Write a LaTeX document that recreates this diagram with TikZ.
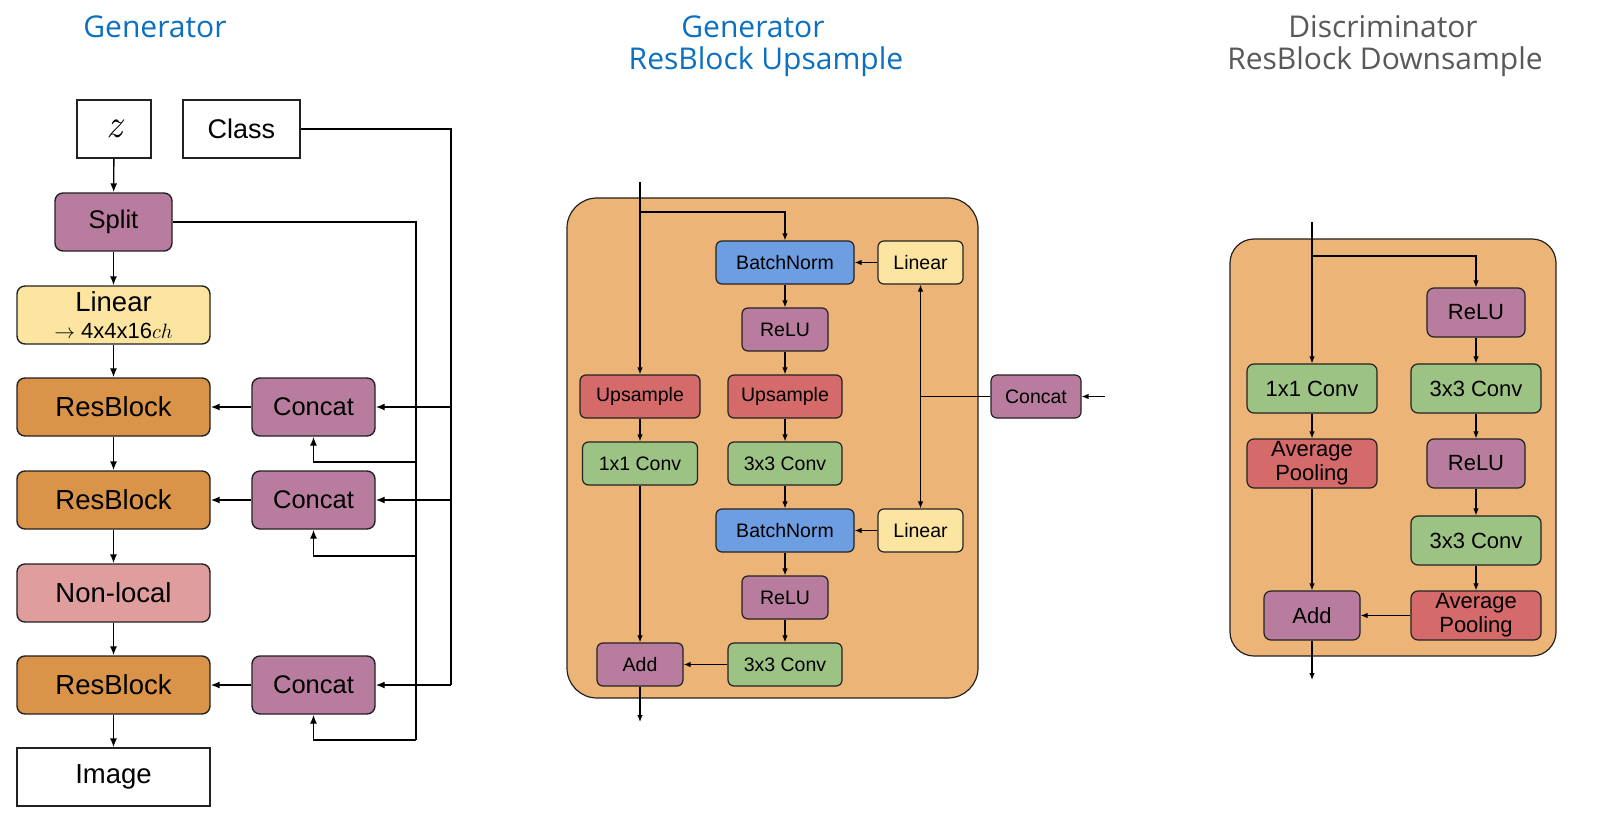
\documentclass[tikz,border=0pt]{standalone}
\usepackage{fontspec}
\setmainfont{Liberation Sans}
\newfontfamily\titlefont{Open Sans}
\newfontfamily\lmr{Latin Modern Roman}
\usetikzlibrary{arrows.meta}
\definecolor{purp}{RGB}{184,125,158}
\definecolor{yel}{RGB}{252,229,161}
\definecolor{orng}{RGB}{217,148,74}
\definecolor{pinkb}{RGB}{224,157,157}
\definecolor{bgor}{RGB}{236,180,118}
\definecolor{blueb}{RGB}{110,158,226}
\definecolor{redb}{RGB}{212,106,106}
\definecolor{grn}{RGB}{157,195,132}
\definecolor{tblue}{RGB}{11,112,192}
\definecolor{tgray}{RGB}{89,89,89}
\definecolor{edge}{RGB}{34,34,34}
\tikzset{
  blkA/.style={draw=edge, line width=1.4pt, rounded corners=8pt, inner sep=0pt, align=center,
    minimum height=58pt, font=\fontsize{27.5}{30}\selectfont},
  smA/.style={font=\fontsize{25.5}{30}\selectfont},
  sqA/.style={blkA, rounded corners=0pt, fill=white},
  blkB/.style={draw=edge, line width=1.2pt, rounded corners=6pt, inner sep=0pt, align=center,
    minimum height=43pt, font=\fontsize{19.5}{22}\selectfont},
  blkC/.style={draw=edge, line width=1.2pt, rounded corners=7pt, inner sep=0pt, align=center,
    minimum height=49pt, font=\fontsize{22}{24}\selectfont},
  lnA/.style={draw=black, line width=1.4pt},
  arA/.style={lnA, -{Latex[length=9pt,width=7pt]}},
  lnB/.style={draw=black, line width=1.1pt},
  arB/.style={lnB, -{Latex[length=7pt,width=5.5pt]}},
  arBB/.style={lnB, {Latex[length=7pt,width=5.5pt]}-{Latex[length=7pt,width=5.5pt]}},
  ttl/.style={font=\titlefont\fontsize{30}{34}\selectfont, inner sep=0pt},
}
\begin{document}
\begin{tikzpicture}[x=1pt,y=-1pt]
\useasboundingbox (0,0) rectangle (1602,834);
% ---------- titles ----------
\node[ttl, text=tblue] (t1) at (155,27) {Generator};
\node[ttl, text=tblue] (t2a) at (753,27) {Generator};
\node[ttl, text=tblue] (t2b) at (766,62) {ResBlock Upsample};
\node[ttl, text=tgray] (t3a) at (1383,27) {Discriminator};
\node[ttl, text=tgray] (t3b) at (1385,62) {ResBlock Downsample};
% ---------- left: generator ----------
\node[sqA, minimum width=74pt, font=\lmr\itshape\fontsize{40}{40}\selectfont] (z) at (114,129) {z};
\node[sqA, minimum width=117pt, font=\fontsize{27}{30}\selectfont] (cls) at (241.5,129) {Class};
\node[blkA, smA, fill=purp, minimum width=117pt] (split) at (113.5,222) {Split};
\node[blkA, fill=yel, minimum width=193pt] (lin) at (113.5,315) {Linear\\[-3pt]{\fontsize{22}{24}\selectfont$\rightarrow$ 4x4x16$ch$}};
\node[blkA, fill=orng, minimum width=193pt] (rb1) at (113.5,407) {ResBlock};
\node[blkA, fill=orng, minimum width=193pt] (rb2) at (113.5,500) {ResBlock};
\node[blkA, fill=pinkb, minimum width=193pt] (nl) at (113.5,593) {Non-local};
\node[blkA, fill=orng, minimum width=193pt] (rb3) at (113.5,685) {ResBlock};
\node[sqA, minimum width=193pt] (img) at (113.5,777) {Image};
\node[blkA, smA, fill=purp, minimum width=123pt] (c1) at (313.5,407) {Concat};
\node[blkA, smA, fill=purp, minimum width=123pt] (c2) at (313.5,500) {Concat};
\node[blkA, smA, fill=purp, minimum width=123pt] (c3) at (313.5,685) {Concat};
\draw[arA] (z) -- (split);
\draw[arA] (split) -- (lin);
\draw[arA] (lin) -- (rb1);
\draw[arA] (rb1) -- (rb2);
\draw[arA] (rb2) -- (nl);
\draw[arA] (nl) -- (rb3);
\draw[arA] (rb3) -- (img);
\draw[arA] (c1) -- (rb1);
\draw[arA] (c2) -- (rb2);
\draw[arA] (c3) -- (rb3);
\coordinate (cx) at (451,0);
\draw[lnA] (cls.east) -| (cx |- c3.east);
\draw[arA] (cx |- c1.east) -- (c1.east);
\draw[arA] (cx |- c2.east) -- (c2.east);
\draw[arA] (cx |- c3.east) -- (c3.east);
\coordinate (j1) at (416,462);
\coordinate (j2) at (416,556);
\coordinate (j3) at (416,740);
\draw[lnA] (split.east) -| (j3);
\draw[arA] (j1) -| (c1.south);
\draw[arA] (j2) -| (c2.south);
\draw[arA] (j3) -| (c3.south);
% ---------- middle: generator resblock ----------
\draw[draw=edge, line width=1.2pt, fill=bgor, rounded corners=30pt] (567,198) rectangle (978,698);
\node[blkB, fill=blueb, minimum width=138pt] (bn1) at (785,262.5) {BatchNorm};
\node[blkB, fill=yel, minimum width=85pt] (l1) at (920.5,262.5) {Linear};
\node[blkB, fill=purp, minimum width=86pt] (r1) at (785,329.5) {ReLU};
\node[blkB, fill=redb, minimum width=120pt] (upl) at (640,396.5) {Upsample};
\node[blkB, fill=redb, minimum width=114pt] (upr) at (785,396.5) {Upsample};
\node[blkB, fill=grn, minimum width=115pt] (c11) at (640,463.5) {1x1 Conv};
\node[blkB, fill=grn, minimum width=114pt] (c33a) at (785,463.5) {3x3 Conv};
\node[blkB, fill=blueb, minimum width=138pt] (bn2) at (785,530.5) {BatchNorm};
\node[blkB, fill=yel, minimum width=85pt] (l2) at (920.5,530.5) {Linear};
\node[blkB, fill=purp, minimum width=86pt] (r2) at (785,597.5) {ReLU};
\node[blkB, fill=purp, minimum width=86pt] (madd) at (640,664.5) {Add};
\node[blkB, fill=grn, minimum width=114pt] (c33b) at (785,664.5) {3x3 Conv};
\node[blkB, fill=purp, minimum width=90pt] (mcat) at (1036,396.5) {Concat};
\coordinate (min) at (640,182);
\coordinate (mbr) at (640,212);
\coordinate (cin) at (1105,396.5);
\coordinate (mout) at (640,722);
\draw[arB] (min) -- (upl);
\draw[arB] (mbr) -| (bn1.north);
\draw[arB] (bn1) -- (r1);
\draw[arB] (r1) -- (upr);
\draw[arB] (upr) -- (c33a);
\draw[arB] (c33a) -- (bn2);
\draw[arB] (bn2) -- (r2);
\draw[arB] (r2) -- (c33b);
\draw[arB] (upl) -- (c11);
\draw[arB] (c11) -- (madd);
\draw[arB] (c33b) -- (madd);
\draw[arB] (l1) -- (bn1);
\draw[arB] (l2) -- (bn2);
\draw[arBB] (l1.south) -- (l2.north);
\draw[lnB] (mcat.west) -- (l1.south |- mcat.west);
\draw[arB] (cin) -- (mcat.east);
\draw[arB] (madd) -- (mout);
% ---------- right: discriminator resblock ----------
\draw[draw=edge, line width=1.2pt, fill=bgor, rounded corners=24pt] (1230,239) rectangle (1556,656);
\node[blkC, fill=purp, minimum width=98pt] (dr1) at (1476,312.5) {ReLU};
\node[blkC, fill=grn, minimum width=130pt] (d11) at (1312,388.5) {1x1 Conv};
\node[blkC, fill=grn, minimum width=130pt] (d33a) at (1476,388.5) {3x3 Conv};
\node[blkC, fill=redb, minimum width=130pt] (dapl) at (1312,463.5) {Average\\Pooling};
\node[blkC, fill=purp, minimum width=98pt] (dr2) at (1476,463.5) {ReLU};
\node[blkC, fill=grn, minimum width=130pt] (d33b) at (1476,540.5) {3x3 Conv};
\node[blkC, fill=purp, minimum width=96pt] (dadd) at (1312,615.5) {Add};
\node[blkC, fill=redb, minimum width=130pt] (dapr) at (1476,615.5) {Average\\Pooling};
\coordinate (din) at (1312,222);
\coordinate (dbr) at (1312,256);
\coordinate (dout) at (1312,680);
\draw[arB] (din) -- (d11);
\draw[arB] (dbr) -| (dr1.north);
\draw[arB] (dr1) -- (d33a);
\draw[arB] (d33a) -- (dr2);
\draw[arB] (dr2) -- (d33b);
\draw[arB] (d33b) -- (dapr);
\draw[arB] (d11) -- (dapl);
\draw[arB] (dapl) -- (dadd);
\draw[arB] (dapr) -- (dadd);
\draw[arB] (dadd) -- (dout);
\end{tikzpicture}
\end{document}
